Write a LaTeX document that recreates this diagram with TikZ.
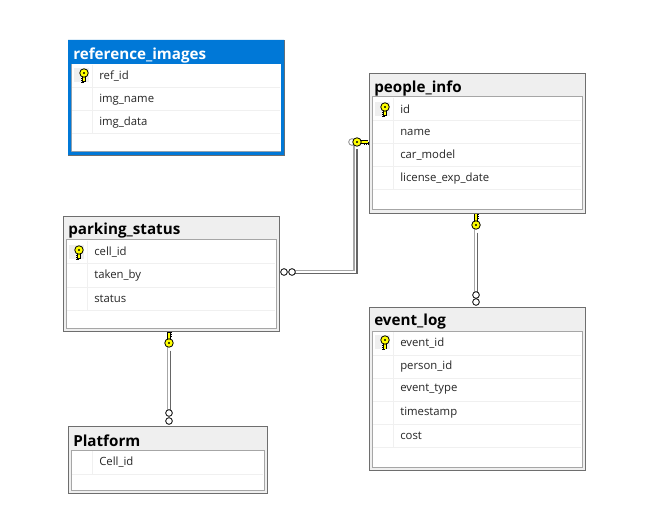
\documentclass[tikz,border=0pt]{standalone}
\usepackage{fontspec}
\setmainfont{Open Sans}
\definecolor{framegray}{HTML}{6E6E6E}
\definecolor{innergray}{HTML}{A6A6A6}
\definecolor{headgray}{HTML}{EFEFEF}
\definecolor{rowgray}{HTML}{F0F0F0}
\definecolor{selblue}{HTML}{0078D7}
\definecolor{keyyellow}{HTML}{FFFF00}
\tikzset{
    tablebox/.style={rectangle, draw=framegray, line width=0.9pt, fill=headgray, inner sep=0pt, anchor=north west},
    tabletitle/.style={anchor=west, inner sep=0pt, font=\fontsize{11.4}{13}\selectfont\bfseries},
    rowtext/.style={anchor=west, inner sep=0pt, text=black!85, font=\fontsize{8.5}{10}\selectfont},
    rowline/.style={draw=rowgray, line width=0.75pt},
    keybow/.style={circle, draw=black, line width=0.6pt, fill=keyyellow, inner sep=0pt, minimum size=6.4pt},
    ringend/.style={circle, draw=black, line width=0.6pt, fill=white, inner sep=0pt, minimum size=5pt},
    ringfaint/.style={circle, draw=black!45, line width=0.6pt, fill=white, inner sep=0pt, minimum size=5pt},
    relback/.style={draw=white, line width=3.6pt},
    rellight/.style={draw=black!35, line width=1.3pt},
    reldark/.style={draw=black!60, line width=1.3pt}
}
% x0 y0 x1 y1, name, title colour, title, rows
\newcommand{\dbtable}[8]{
    \node (#5) [tablebox, minimum width={(#3-#1)*0.75pt}, minimum height={(#4-#2)*0.75pt}] at (#1,#2) {};
    \fill[white] (#1+3,#2+24) rectangle (#3-3,#4-3);
    \draw[innergray, line width=0.75pt] (#1+3,#2+24) rectangle (#3-3,#4-3);
    \foreach \rowname [count=\i from 0] in {#8} {
        \draw[rowline] (#1+4,#2+24+24+23*\i) -- (#3-4,#2+24+24+23*\i);
        \draw[rowline] (#1+24,#2+25+23*\i) -- (#1+24,#2+24+24+23*\i);
        \node (#5row\i) [rowtext] at (#1+31,#2+36.5+23*\i) {\rowname};
    }
}
% key with its bow at x y, turned by the angle, shaft length
\newcommand{\keymark}[5]{
    \begin{scope}[shift={(#1,#2)}, rotate=#3]
        \draw[black, line width=0.6pt] (#4-4,0) -- (#4-4,3.2) (#4-2,0) -- (#4-2,3.2) (#4,0) -- (#4,3.2);
        \draw[black, line width=2.6pt] (2,0) -- (#4,0);
        \draw[keyyellow, line width=1.3pt] (2,0) -- (#4-0.5,0);
        \node (#5) [keybow] at (0,0) {};
        \fill[black] (0,0) circle (1.1);
    \end{scope}
}
% grey cell in front of the first row, with its key
\newcommand{\keycell}[3]{
    \fill[headgray] (#1-11,#2-4) rectangle (#1+4,#2+10);
    \keymark{#1-1}{#2+1}{-90}{9}{#3}
}
% relation line: light edge, white middle, dark edge
\newcommand{\relline}[3]{
    \draw[relback] (#1.center) #2 (#3.center);
    \draw[rellight] ([shift={(-1.2pt,1.2pt)}]#1.center) #2 ([shift={(-1.2pt,1.2pt)}]#3.center);
    \draw[reldark] ([shift={(1.2pt,-1.2pt)}]#1.center) #2 ([shift={(1.2pt,-1.2pt)}]#3.center);
}
\begin{document}
\begin{tikzpicture}[x=0.75pt, y=-0.75pt]
    \useasboundingbox (0,0) rectangle (659,516);
    \fill[white] (0,0) rectangle (659,516);

    \dbtable{68}{40}{284}{155}{refimages}{white}{reference\_images}{ref\_id,img\_name,img\_data}
    \dbtable{369}{73}{585}{213}{people}{black}{people\_info}{id,name,car\_model,license\_exp\_date}
    \dbtable{63}{216}{279}{331}{parking}{black}{parking\_status}{cell\_id,taken\_by,status}
    \dbtable{369}{307}{585}{470}{eventlog}{black}{event\_log}{event\_id,person\_id,event\_type,timestamp,cost}
    \dbtable{68}{426}{267}{493}{platform}{black}{Platform}{Cell\_id}

    % selected table is blue
    \fill[selblue, even odd rule] (68,40) rectangle (284,155) (71,64) rectangle (281,152);

    \node (refimagestitle) [tabletitle, text=white] at (73,55.5) {reference\_images};
    \node (peopletitle) [tabletitle] at (374,89) {people\_info};
    \node (parkingtitle) [tabletitle] at (68,231) {parking\_status};
    \node (eventlogtitle) [tabletitle] at (374,322) {event\_log};
    \node (platformtitle) [tabletitle] at (73,441) {Platform};

    \keycell{85}{72}{refimageskey}
    \keycell{386}{106}{peoplekey}
    \keycell{80}{249}{parkingkey}
    \keycell{386}{339}{eventlogkey}

    % ends of the relations
    \node (parkingringout) [ringend] at (284,272) {};
    \node (peoplering) [ringfaint] at (352,142) {};
    \node (eventringout) [ringend] at (476,302) {};
    \node (platformringout) [ringend] at (169,421) {};
    \coordinate (peopleline) at (355.5,147);
    \coordinate (peopledown) at (476,231);
    \coordinate (parkingdown) at (169,349);
    \coordinate (parkingstart) at (292,272);
    \coordinate (eventstart) at (476,295);
    \coordinate (platformstart) at (169,413);

    \relline{parkingstart}{-|}{peopleline}
    \relline{peopledown}{--}{eventstart}
    \relline{parkingdown}{--}{platformstart}

    \node (parkingring) [ringend] at (292,272) {};
    \node (eventring) [ringend] at (476,295) {};
    \node (platformring) [ringend] at (169,413) {};

    \keymark{357}{142}{0}{11}{peoplekeyside}
    \keymark{476}{225}{90}{11}{peoplekeydown}
    \keymark{169}{343}{90}{11}{parkingkeydown}
\end{tikzpicture}
\end{document}
